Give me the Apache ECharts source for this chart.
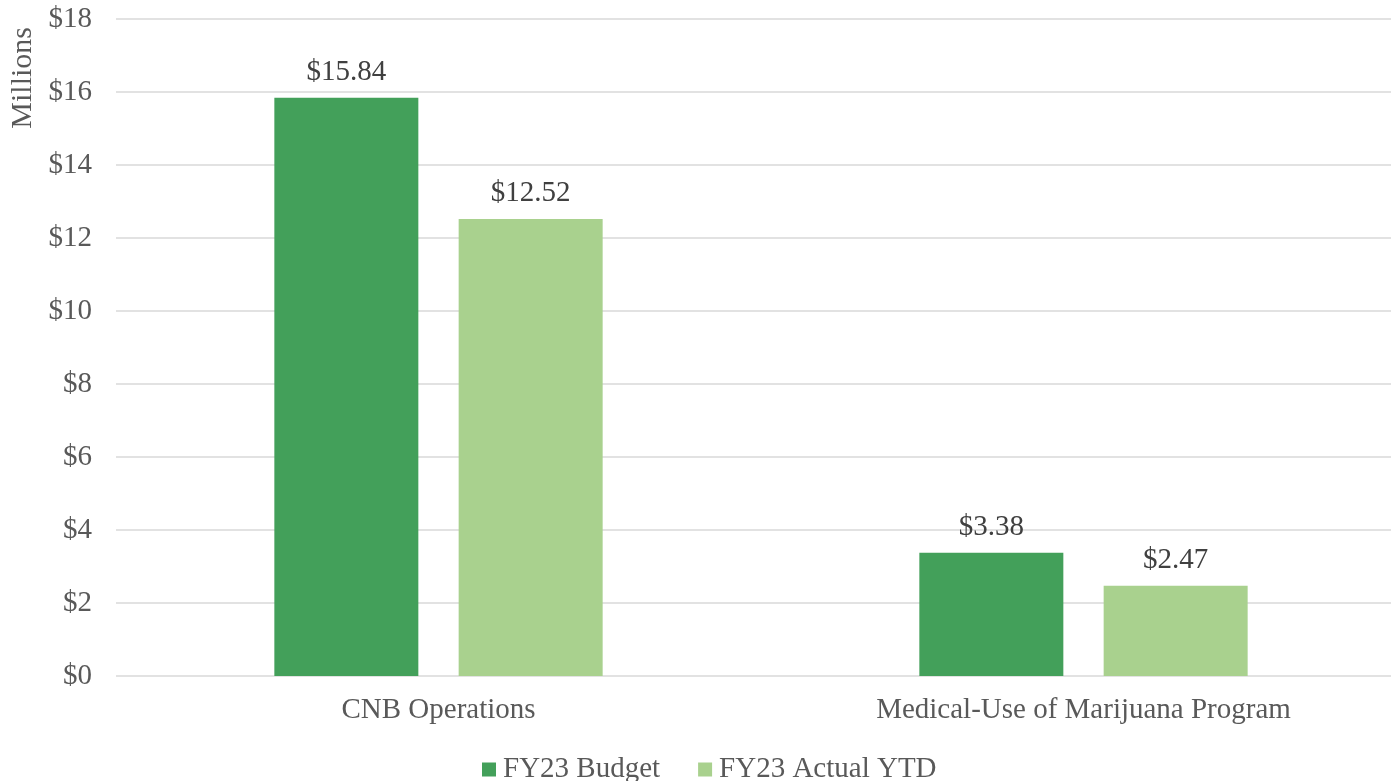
<!DOCTYPE html>
<html>
<head>
<meta charset="utf-8">
<script src="https://cdn.jsdelivr.net/npm/echarts@6/dist/echarts.min.js"></script>
<style>
html, body { margin: 0; padding: 0; background: #fff; }
#chart { width: 1391px; height: 781px; }
</style>
</head>
<body>
<div id="chart"></div>
<script>
var categorias = ['CNB Operations', 'Medical-Use of Marijuana Program'];
var presupuesto = [15.84, 3.38];
var actual = [12.52, 2.47];
var nombres = ['FY23 Budget', 'FY23 Actual YTD'];

var fuente = '"Liberation Serif", "Times New Roman", serif';
var gris = '#595959';

var myChart = echarts.init(document.getElementById('chart'));
myChart.setOption({
    animation: false,
    textStyle: { fontFamily: fuente },
    // el area de trazado sigue un poco mas alla del borde derecho
    grid: { left: 116, width: 1290, top: 19, bottom: 105, outerBoundsMode: 'none', containLabel: false },
    legend: {
        bottom: -8,
        left: 477,
        itemWidth: 14,
        itemHeight: 14,
        itemGap: 38,
        icon: 'rect',
        textStyle: { fontFamily: fuente, fontSize: 29, color: gris, padding: [0, 0, 0, 2] },
        data: nombres
    },
    xAxis: {
        type: 'category',
        data: categorias,
        axisLine: { show: false },
        axisTick: { show: false },
        axisLabel: { fontFamily: fuente, fontSize: 29, color: gris, margin: 20 }
    },
    yAxis: {
        type: 'value',
        min: 0,
        max: 18,
        interval: 2,
        name: 'Millions',
        nameLocation: 'end',
        nameRotate: 90,
        nameGap: 0,
        nameTextStyle: { fontFamily: fuente, fontSize: 30, color: gris, align: 'right', verticalAlign: 'bottom', padding: [0, 8, 78, 0] },
        axisLabel: {
            fontFamily: fuente, fontSize: 29, color: gris, margin: 24,
            formatter: function (v) { return '$' + v; }
        },
        splitLine: { lineStyle: { color: '#d9d9d9', width: 1.5 } }
    },
    series: [{
        name: nombres[0],
        type: 'bar',
        data: presupuesto,
        barWidth: 144,
        barGap: '28%',
        itemStyle: { color: '#43A05A' },
        label: {
            show: true, position: 'top', distance: 11,
            fontFamily: fuente, fontSize: 29, color: '#404040',
            formatter: function (p) { return '$' + p.value.toFixed(2); }
        }
    }, {
        name: nombres[1],
        type: 'bar',
        data: actual,
        barWidth: 144,
        itemStyle: { color: '#A9D18E' },
        label: {
            show: true, position: 'top', distance: 11,
            fontFamily: fuente, fontSize: 29, color: '#404040',
            formatter: function (p) { return '$' + p.value.toFixed(2); }
        }
    }]
});
</script>
</body>
</html>
